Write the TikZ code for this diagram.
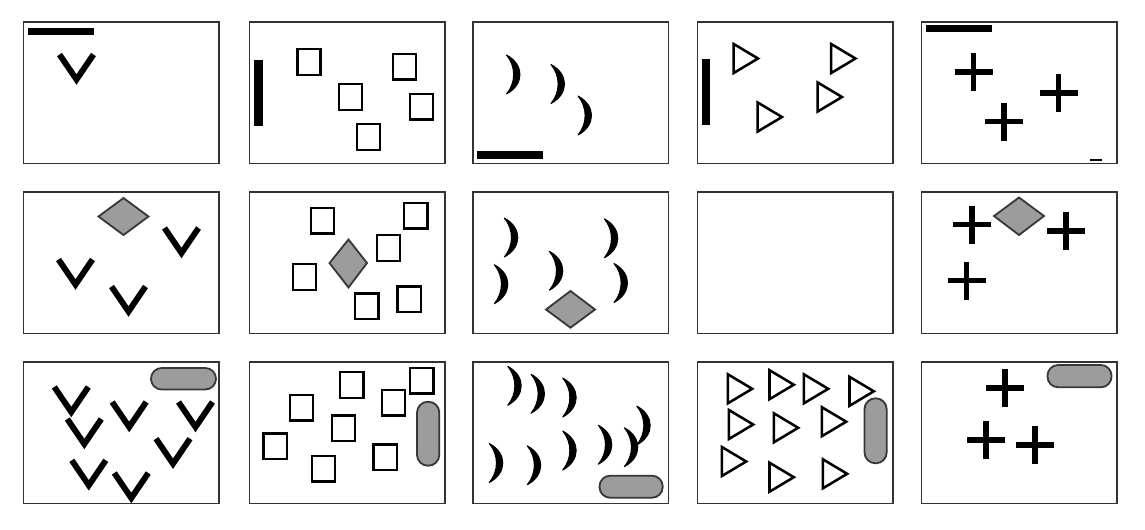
\documentclass[tikz,border=0pt]{standalone}
\definecolor{shapegray}{HTML}{9C9C9C}
\definecolor{edgegray}{HTML}{383838}
\begin{document}
\begin{tikzpicture}[x=0.025cm, y=-0.025cm, line join=miter]
	\tikzset{panel/.style={draw=black!80, line width=0.9pt},
		tag/.style={fill=black},
		blob/.style={fill=shapegray, draw=edgegray, line width=1.3pt},
		vee/.pic={\draw[line width=4.2pt] (-17,-14) -- (0,11) -- (17,-14);},
		moon/.pic={\filldraw[line width=0.7pt, line join=round] (0,-19.5) .. controls (18,-10) and (18,10) .. (0,19.5) .. controls (9.5,8) and (9.5,-8) .. (0,-19.5) -- cycle;},
		cross/.pic={\draw[line width=4.2pt] (-19,0) -- (19,0) (0,-19) -- (0,19);},
		box/.pic={\draw[line width=1.7pt] (-11.6,-12.8) rectangle (11.6,12.8);},
		tri/.pic={\draw[line width=1.8pt] (1.2,-14.5) -- (25.5,0) -- (1.2,14.5) -- cycle;}}
	\useasboundingbox (0,0) rectangle (1145,529);
	% the 15 frames
	\foreach \xl in {23.5,249.5,473,697.5,921.5}
	\foreach \yt in {22,192,362}
	\draw[panel] (\xl,\yt) rectangle ++(195.5,141.5);
	% first row
	\fill[tag] (27.5,27.5) rectangle (94,34.5);
	\pic at (76.5,68.5) {vee};
	\fill[tag] (253.5,60) rectangle (262.5,126);
	\foreach \x/\y in {309/62,404.5/66.5,350.5/97,421.5/106.5,368.5/137}
	\pic at (\x,\y) {box};
	\fill[tag] (477,151) rectangle (542.5,159);
	\foreach \x/\y in {506.5/74.5,551/84,578/115.5}
	\pic at (\x,\y) {moon};
	\fill[tag] (702,58.5) rectangle (709.5,124.5);
	\foreach \x/\y in {732.5/58.5,830/58.5,816.5/97,756.5/117}
	\pic at (\x,\y) {tri};
	\fill[tag] (926,25) rectangle (992,32);
	\fill[tag] (1090,158.5) rectangle (1102,161);
	\foreach \x/\y in {973.5/72,1058.5/93,1004/121.5}
	\pic at (\x,\y) {cross};
	% second row
	\filldraw[blob] (98.5,216.5) -- (123.5,198) -- (148.5,216.5) -- (123.5,235) -- cycle;
	\foreach \x/\y in {181.5/242,75.5/273.5,128.5/300.5}
	\pic at (\x,\y) {vee};
	\foreach \x/\y in {322.5/220.5,415.8/215.5,388.3/248,304.5/277,366.8/306.3,409.2/299.2}
	\pic at (\x,\y) {box};
	\filldraw[blob] (329.5,263) -- (348.5,239.5) -- (367,263) -- (348.5,287.5) -- cycle;
	\foreach \x/\y in {504.3/237.5,494.3/284.2,549.3/270.8,604.3/238.3,614/283}
	\pic at (\x,\y) {moon};
	\filldraw[blob] (546,309.5) -- (570.5,291) -- (595,309.5) -- (570.5,327.7) -- cycle;
	\foreach \x/\y in {972/224.5,1066/231,966.5/280.5}
	\pic at (\x,\y) {cross};
	\filldraw[blob] (994,216) -- (1019,197.5) -- (1044,216) -- (1019,235) -- cycle;
	% third row
	\filldraw[blob, rounded corners=7.6pt] (151,368) rectangle (216,389.5);
	\foreach \x/\y in {71.3/401,84.3/433,129.2/416,195.5/416,173/452.7,88.8/474.3,131.3/487}
	\pic at (\x,\y) {vee};
	\foreach \x/\y in {351.8/385,421.8/380.5,301.5/407.8,393.5/402.8,343.5/428.3,275.2/446.2,323.5/468.8,385.2/457.2}
	\pic at (\x,\y) {box};
	\filldraw[blob, rounded corners=7.8pt] (417,401.7) rectangle (439.3,465.7);
	\foreach \x/\y in {507.7/385.8,531/393.7,562.7/397.5,636.7/425.5,489.3/463,527.2/465.3,562.7/450.5,598.3/444.7,624.3/447.2}
	\pic at (\x,\y) {moon};
	\filldraw[blob, rounded corners=7.6pt] (599.5,475.7) rectangle (662.7,497.7);
	\foreach \x/\y in {726.7/388.8,768.3/384.7,802.7/388.8,848.3/391.3,727.7/424.5,772.7/427.8,820.7/421.7,720.7/461.5,768.3/477.2,821.7/473.8}
	\pic at (\x,\y) {tri};
	\filldraw[blob, rounded corners=7.8pt] (864.5,398.3) rectangle (886.7,463.3);
	\foreach \x/\y in {1005.4/388.3,986/440,1035/445}
	\pic at (\x,\y) {cross};
	\filldraw[blob, rounded corners=7.6pt] (1047.5,365) rectangle (1111.5,387.3);
\end{tikzpicture}
\end{document}
